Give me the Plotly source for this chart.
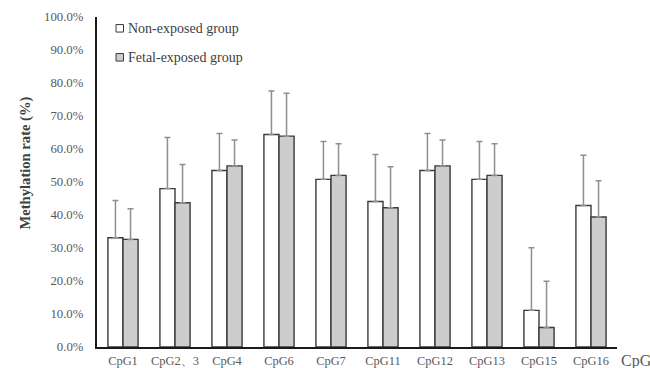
import plotly.graph_objects as go

# CpG sites along the amplicon
sites = ["CpG1", "CpG2、3", "CpG4", "CpG6", "CpG7", "CpG11", "CpG12", "CpG13", "CpG15", "CpG16"]

# Mean methylation rate (%) and upper error (mean + SD, %) per group
non_exposed_mean = [33.1, 48.0, 53.5, 64.4, 50.8, 44.1, 53.5, 50.8, 11.1, 42.9]
non_exposed_upper = [44.4, 63.5, 64.7, 77.6, 62.3, 58.3, 64.7, 62.3, 30.1, 58.1]
fetal_exposed_mean = [32.6, 43.7, 54.9, 63.9, 52.0, 42.2, 54.9, 52.0, 5.9, 39.4]
fetal_exposed_upper = [41.9, 55.3, 62.7, 76.9, 61.6, 54.6, 62.7, 61.6, 19.9, 50.4]

group_names = ["Non-exposed group", "Fetal-exposed group"]
fill_colors = ["#ffffff", "#cdcdcd"]

SERIF = "Liberation Serif, Times New Roman, serif"
EDGE = "#3a3a3a"
ERR = "#8f8f8f"
LABEL = "#595959"

fig = go.Figure()
for name, means, uppers, fill in zip(
    group_names,
    [non_exposed_mean, fetal_exposed_mean],
    [non_exposed_upper, fetal_exposed_upper],
    fill_colors,
):
    fig.add_trace(
        go.Bar(
            x=sites,
            y=means,
            name=name,
            marker=dict(color=fill, line=dict(color=EDGE, width=1.4)),
            error_y=dict(
                type="data",
                symmetric=False,
                array=[u - m for u, m in zip(uppers, means)],
                arrayminus=[0] * len(means),
                color=ERR,
                thickness=1.5,
                width=3,
            ),
            showlegend=False,
        )
    )

# Legend drawn as small squares with labels in the upper-left of the plot
legend_rows_y = [28.3, 57.3]  # pixel rows from the top of the page
plot_top, plot_h = 17, 330
plot_left, plot_w = 97, 520
for name, fill, row_y in zip(group_names, fill_colors, legend_rows_y):
    yc = 1 - (row_y - plot_top) / plot_h
    x0 = (116 - plot_left) / plot_w
    x1 = (123.5 - plot_left) / plot_w
    half = 3.75 / plot_h
    fig.add_shape(
        type="rect", xref="paper", yref="paper",
        x0=x0, x1=x1, y0=yc - half, y1=yc + half,
        fillcolor=fill, line=dict(color=EDGE, width=1),
    )
    fig.add_annotation(
        xref="paper", yref="paper", x=(126 - plot_left) / plot_w, y=yc,
        xanchor="left", yanchor="middle", showarrow=False,
        text=name, font=dict(family=SERIF, size=14, color="#404040"),
    )

# Y-axis title
fig.add_annotation(
    xref="paper", yref="paper", x=(25 - plot_left) / plot_w, y=(347 - 163.5) / plot_h,
    xanchor="center", yanchor="middle", showarrow=False, textangle=-90,
    text="<b>Methylation rate (%)</b>",
    font=dict(family=SERIF, size=14.6, color="#404040"),
)

# X-axis title at the right end of the axis
fig.add_annotation(
    xref="paper", yref="paper", x=(619 - plot_left) / plot_w, y=-(360.5 - 347) / plot_h,
    xanchor="left", yanchor="middle", showarrow=False,
    text="CpG", font=dict(family=SERIF, size=16, color=LABEL),
)

fig.update_layout(
    width=650,
    height=368,
    margin=dict(l=97, r=33, t=17, b=21),
    paper_bgcolor="white",
    plot_bgcolor="white",
    barmode="group",
    bargap=0.42,
    bargroupgap=0,
    font=dict(family=SERIF, color=LABEL),
)
fig.update_xaxes(
    showline=True, linecolor="#1a1a1a", linewidth=2,
    showgrid=False, ticks="", ticklabelstandoff=1, automargin=False,
    tickfont=dict(family=SERIF, size=12.4, color=LABEL),
)
fig.update_yaxes(
    range=[0, 100], dtick=10, tickformat=".1f", ticksuffix="%",
    showline=True, linecolor="#1a1a1a", linewidth=2,
    showgrid=False, zeroline=False, ticks="", ticklabelstandoff=9, automargin=False,
    tickfont=dict(family=SERIF, size=12.8, color=LABEL),
)

fig.write_html("out.html")
